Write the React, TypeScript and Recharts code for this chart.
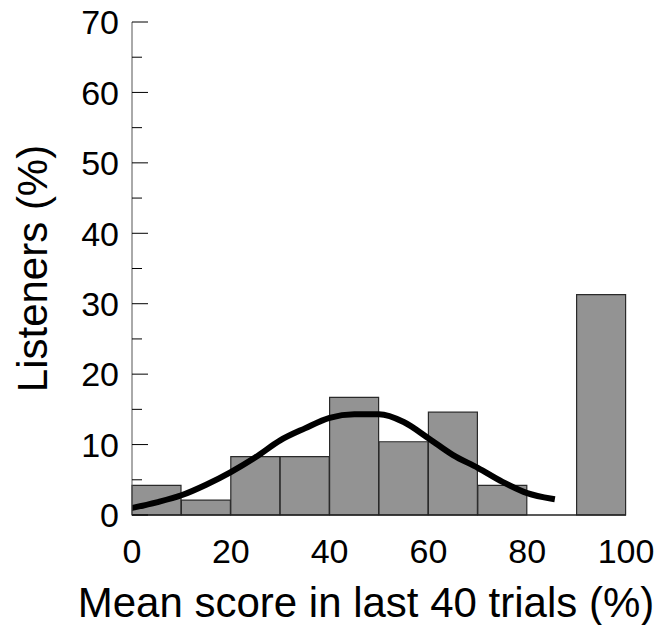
import React from 'react';
import { ComposedChart, Bar, Line, XAxis, YAxis, Label } from 'recharts';

const binLabels = ['0-10', '10-20', '20-30', '30-40', '40-50', '50-60', '60-70', '70-80', '80-90', '90-100'];
const listenerPct = [4.2, 2.1, 8.3, 8.3, 16.7, 10.4, 14.6, 4.2, 0, 31.3];

// fitted curve, every 5 points
const fitScores = [0, 5, 10, 15, 20, 25, 30, 35, 40, 45, 50, 55, 60, 65, 70, 75, 80, 85];
const fitPct = [1.0, 1.8, 2.8, 4.3, 6.1, 8.2, 10.6, 12.3, 13.8, 14.3, 14.3, 13.2, 10.9, 8.5, 6.7, 4.7, 3.1, 2.3];

const yTicks = [0, 5, 10, 15, 20, 25, 30, 35, 40, 45, 50, 55, 60, 65, 70];
const xTicks = [0, 20, 40, 60, 80, 100];

const FONT = '"Liberation Sans", Arial, Helvetica, sans-serif';
const Y_MARGIN = 13;

const YTick = (props: any) => {
  const { x, y, payload } = props;
  const major = payload.value % 10 === 0;
  const axisX = x + Y_MARGIN;
  return (
    <g>
      <line x1={axisX} x2={axisX + (major ? 16 : 10)} y1={y} y2={y} stroke="#000" strokeWidth={1} />
      {major && (
        <text x={x} y={y} dy="0.36em" textAnchor="end" fontSize={34} fill="#000" fontFamily={FONT}>
          {payload.value}
        </text>
      )}
    </g>
  );
};

const YTitle = (props: any) => {
  const vb = props.viewBox;
  const cx = vb.x + 32;
  const cy = vb.y + vb.height / 2;
  return (
    <text
      x={cx}
      y={cy}
      transform={`rotate(-90 ${cx} ${cy})`}
      textAnchor="middle"
      dominantBaseline="central"
      fontSize={42}
      fill="#000"
      fontFamily={FONT}
    >
      Listeners (%)
    </text>
  );
};

const App: React.FC = () => {
  const bins = binLabels.map((bin, i) => ({ bin, pct: listenerPct[i] }));
  const fit = fitScores.map((x, i) => ({ x, y: fitPct[i] }));

  return (
    <div style={{ position: 'absolute', left: 0, top: 0, background: '#fff' }}>
      <ComposedChart
        width={666}
        height={625}
        data={bins}
        margin={{ top: 22, right: 40, bottom: 0, left: 0 }}
        barCategoryGap={0}
        barGap={0}
        style={{ fontFamily: FONT }}
      >
        <XAxis
          xAxisId="num"
          dataKey="x"
          type="number"
          domain={[0, 100]}
          ticks={xTicks}
          allowDataOverflow
          height={110}
          tickLine={false}
          tickSize={0}
          tickMargin={24}
          axisLine={{ stroke: '#222', strokeWidth: 1.5 }}
          tick={{ fontSize: 34, fill: '#000', fontFamily: FONT }}
          interval={0}
        >
          <Label
            value="Mean score in last 40 trials (%)"
            position="insideBottom"
            offset={8}
            dx={-13}
            fontSize={42}
            fill="#000"
            fontFamily={FONT}
          />
        </XAxis>
        <XAxis xAxisId="bins" dataKey="bin" type="category" hide height={0} />
        <YAxis
          type="number"
          domain={[0, 70]}
          ticks={yTicks}
          width={132}
          tickLine={false}
          tickSize={0}
          tickMargin={Y_MARGIN}
          axisLine={{ stroke: '#555', strokeWidth: 1 }}
          tick={<YTick />}
          interval={0}
          label={<YTitle />}
        />
        <Bar
          xAxisId="bins"
          dataKey="pct"
          fill="#939393"
          stroke="#2a2a2a"
          strokeWidth={1.2}
          isAnimationActive={false}
        />
        <Line
          xAxisId="num"
          data={fit}
          dataKey="y"
          type="monotone"
          stroke="#000"
          strokeWidth={6}
          strokeLinecap="square"
          dot={false}
          activeDot={false}
          isAnimationActive={false}
        />
      </ComposedChart>
    </div>
  );
};

export default App;
